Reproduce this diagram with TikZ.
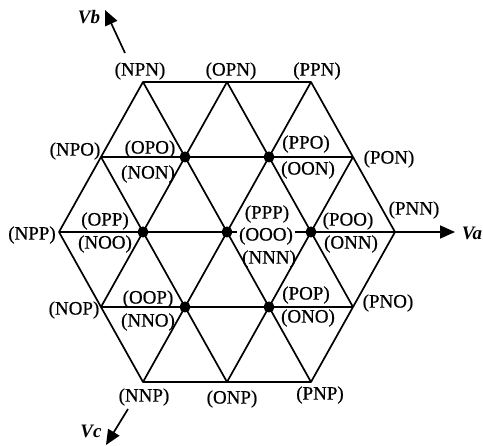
\documentclass[tikz,border=0pt]{standalone}
\usepackage{fontspec}
\setmainfont{Liberation Serif}
\newfontfamily\lblfont[FakeBold=0.6]{Liberation Serif}
\usetikzlibrary{arrows.meta}
\begin{document}
\begin{tikzpicture}[x=1pt,y=-1pt,
  grid/.style={line width=1.7pt,line join=round},
  axis/.style={line width=1.7pt,-{Triangle[length=15pt,width=13pt]}},
  lbl/.style={font=\lblfont\fontsize{19}{19}\selectfont,inner sep=0pt},
  axlbl/.style={font=\fontsize{19}{19}\selectfont\bfseries\itshape,inner sep=0pt},
  dot/.style={circle,fill=black,inner sep=0pt,minimum size=11pt}]
\useasboundingbox (0,0) rectangle (483,446);
% lattice points
\coordinate (t1) at (143,82); \coordinate (t2) at (227,82); \coordinate (t3) at (311,82);
\coordinate (u1) at (101,157); \coordinate (u2) at (185,157); \coordinate (u3) at (269,157); \coordinate (u4) at (353,157);
\coordinate (m1) at (59,232); \coordinate (m2) at (143,232); \coordinate (m3) at (227,232); \coordinate (m4) at (311,232); \coordinate (m5) at (395,232);
\coordinate (l1) at (101,307); \coordinate (l2) at (185,307); \coordinate (l3) at (269,307); \coordinate (l4) at (353,307);
\coordinate (b1) at (143,382); \coordinate (b2) at (227,382); \coordinate (b3) at (311,382);
% axis ends
\coordinate (vaend) at (455,232);
\coordinate (vbs) at (125,53); \coordinate (vbend) at (105,10);
\coordinate (vcs) at (128,409); \coordinate (vcend) at (106,445);
% hexagon
\draw[grid] (t1) -- (t3) -- (m5) -- (b3) -- (b1) -- (m1) -- cycle;
% horizontals
\draw[grid] (u1) -- (u4);
\draw[grid] (m1) -- (m5);
\draw[grid] (l1) -- (l4);
% diagonals /
\draw[grid] (l1) -- (t2);
\draw[grid] (b1) -- (t3);
\draw[grid] (b2) -- (u4);
% diagonals \
\draw[grid] (t1) -- (b3);
\draw[grid] (t2) -- (l4);
\draw[grid] (u1) -- (b2);
% axes
\draw[axis] (m5) -- (vaend);
\draw[axis] (vbs) -- (vbend);
\draw[axis] (vcs) -- (vcend);
\node[axlbl] (va) at (472,233) {Va};
\node[axlbl] (vb) at (89,17) {Vb};
\node[axlbl] (vc) at (91,431) {Vc};
% dots
\foreach \p in {u2,u3,m2,m3,m4,l2,l3} \node[dot] (d\p) at (\p) {};
% labels
\node[lbl] (nNPN) at (140,71) {(NPN)};
\node[lbl] (nOPN) at (231,71) {(OPN)};
\node[lbl] (nPPN) at (317,71) {(PPN)};
\node[lbl] (nNPO) at (75,151) {(NPO)};
\node[lbl] (nOPO) at (150,149) {(OPO)};
\node[lbl] (nNON) at (148,174) {(NON)};
\node[lbl] (nPPO) at (306,144) {(PPO)};
\node[lbl] (nOON) at (308,170) {(OON)};
\node[lbl] (nPON) at (389,159) {(PON)};
\node[lbl] (nNPP) at (32,235) {(NPP)};
\node[lbl] (nOPP) at (105,221) {(OPP)};
\node[lbl] (nNOO) at (105,244) {(NOO)};
\node[lbl] (nPPP) at (267,214) {(PPP)};
\node[lbl,fill=white,inner xsep=2pt] (nOOO) at (266,236) {(OOO)};
\node[lbl] (nNNN) at (269,259) {(NNN)};
\node[lbl] (nPOO) at (348,221) {(POO)};
\node[lbl] (nONN) at (351,244) {(ONN)};
\node[lbl] (nPNN) at (414,210) {(PNN)};
\node[lbl] (nOOP) at (148,299) {(OOP)};
\node[lbl] (nNNO) at (148,322) {(NNO)};
\node[lbl] (nNOP) at (74,310) {(NOP)};
\node[lbl] (nPOP) at (306,295) {(POP)};
\node[lbl] (nONO) at (308,318) {(ONO)};
\node[lbl] (nPNO) at (388,303) {(PNO)};
\node[lbl] (nNNP) at (144,397) {(NNP)};
\node[lbl] (nONP) at (232,399) {(ONP)};
\node[lbl] (nPNP) at (320,395) {(PNP)};
\end{tikzpicture}
\end{document}
